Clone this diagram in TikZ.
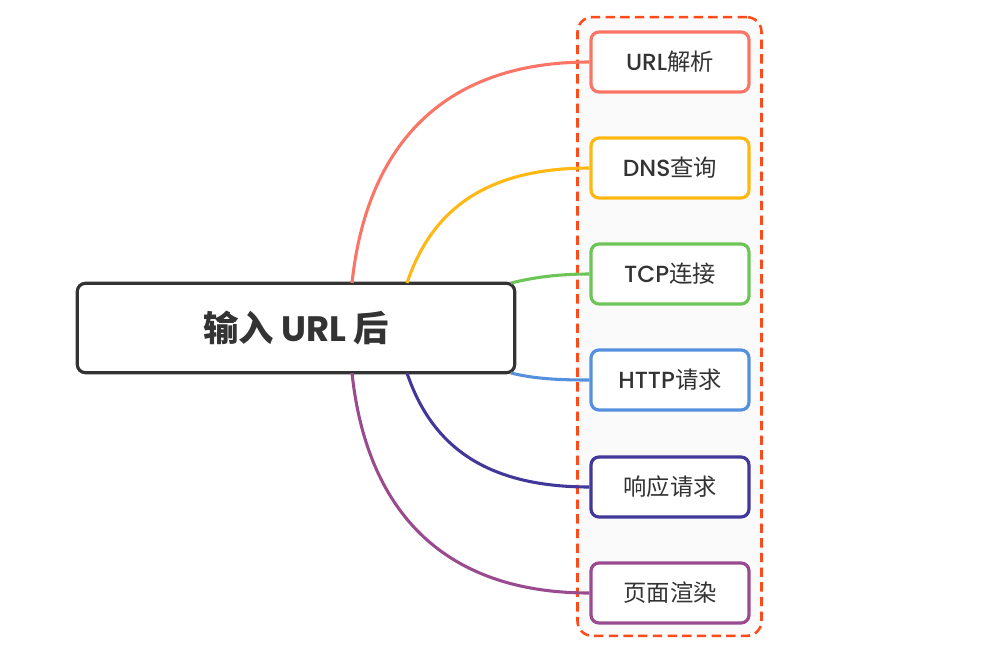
\documentclass[tikz,border=0pt]{standalone}
\usepackage{fontspec}
\setmainfont{Poppins}
\newfontfamily\latm{Poppins Medium}
\newfontfamily\cjk{Noto Sans CJK SC}
\newfontfamily\cjkb{Noto Sans CJK SC Bold}
\definecolor{txt}{HTML}{333333}
\definecolor{cred}{HTML}{FA7566}
\definecolor{corange}{HTML}{FFB812}
\definecolor{cgreen}{HTML}{6CC556}
\definecolor{cblue}{HTML}{5590DF}
\definecolor{cindigo}{HTML}{41389A}
\definecolor{cpurple}{HTML}{9A4A8E}
\definecolor{cdash}{HTML}{FF4A1A}
\begin{document}
\begin{tikzpicture}[x=0.75pt,y=-0.75pt,
  topic/.style={draw=#1,line width=2.4pt,rounded corners=6pt,fill=white,
    minimum width=118.5pt,minimum height=45pt,inner sep=0pt,text=txt,
    font=\fontsize{17.5}{20}\selectfont\latm},
  central/.style={draw=txt,line width=2.4pt,rounded corners=6pt,fill=white,
    minimum width=328pt,minimum height=67pt,inner sep=0pt,text=txt,
    font=\fontsize{26.5}{30}\selectfont\bfseries},
  link/.style={line width=2.3pt,draw=#1}]
\useasboundingbox (0,0) rectangle (981,665);
\fill[white] (0,0) rectangle (981,665);
% dashed container
\node[draw=cdash,line width=1.9pt,dash pattern=on 7pt off 4pt,rounded corners=11pt,
  fill=white!98!black,minimum width=138pt,minimum height=464pt,inner sep=0pt]
  (group) at (669.5,326.5) {};
% central node
\node[central] (c) at (296,328) {{\cjkb 输入} URL {\cjkb 后}};
% topics
\node[topic=cred] (t1) at (670,62) {URL{\cjk 解析}};
\node[topic=corange] (t2) at (670,168) {DNS{\cjk 查询}};
\node[topic=cgreen] (t3) at (670,274) {TCP{\cjk 连接}};
\node[topic=cblue] (t4) at (670,380) {HTTP{\cjk 请求}};
\node[topic=cindigo] (t5) at (670,487) {\cjk 响应请求};
\node[topic=cpurple] (t6) at (670,593) {\cjk 页面渲染};
% connectors
\coordinate (s1) at (352,283);
\coordinate (s2) at (407,283);
\coordinate (s3) at (511,283);
\coordinate (s4) at (511,373);
\coordinate (s5) at (407,373);
\coordinate (s6) at (352,373);
\draw[link=cred] (s1) .. controls (365,160) and (430,62) .. (t1.west);
\draw[link=corange] (s2) .. controls (430,215) and (480,168) .. (t2.west);
\draw[link=cgreen] (s3) .. controls (535,277) and (560,274) .. (t3.west);
\draw[link=cblue] (s4) .. controls (535,379) and (560,380) .. (t4.west);
\draw[link=cindigo] (s5) .. controls (430,441) and (480,487) .. (t5.west);
\draw[link=cpurple] (s6) .. controls (365,496) and (430,593) .. (t6.west);
\end{tikzpicture}
\end{document}
